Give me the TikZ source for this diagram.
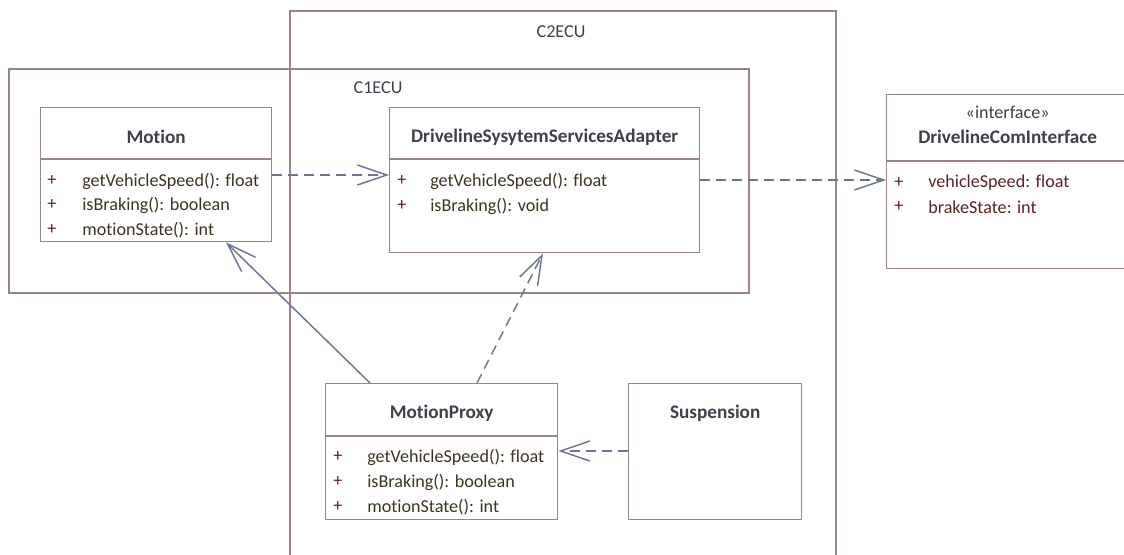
\documentclass[tikz,border=0pt]{standalone}
\usepackage{fontspec}
\setmainfont{Carlito}[Ligatures={NoCommon}]
\usetikzlibrary{arrows.meta}
\definecolor{boxline}{HTML}{9A8484}
\definecolor{conn}{HTML}{6E7590}
\definecolor{titletext}{HTML}{3F3F4A}
\definecolor{membertext}{HTML}{3D3420}
\definecolor{plustext}{HTML}{5A1E14}
\definecolor{ifacetext}{HTML}{5A2323}
\begin{document}
\begin{tikzpicture}[x=0.75pt, y=-0.75pt,
  every node/.style={font=\fontsize{13.6}{15}\selectfont},
  frame/.style={draw=boxline, line width=1pt},
  classbox/.style={draw=boxline, line width=1pt, anchor=north west, inner sep=0pt},
  title/.style={font=\fontsize{14.4}{16}\selectfont\bfseries, text=titletext},
  member/.style={anchor=west, text=membertext, inner sep=0pt},
  plus/.style={text=plustext, inner sep=0pt},
  dep/.style={draw=conn, line width=1.1pt, dash pattern=on 7.5pt off 4.5pt,
    -{Straight Barb[length=22pt, width=15pt]}},
  assoc/.style={draw=conn, line width=1.1pt,
    -{Straight Barb[length=22pt, width=15pt]}}]
  \clip (0,0) rectangle (1124,554);
  % ECU frames
  \draw[frame] (290,11) rectangle (836,560);
  \node[text=titletext] (c2label) at (561,32) {C2ECU};
  \draw[frame] (9,69) rectangle (749,293);
  \node[text=titletext] (c1label) at (378,88) {C1ECU};
  % Motion
  \node[classbox, minimum width=231*0.75pt, minimum height=134*0.75pt] (motion) at (40,107) {};
  \draw[frame] (motion.west |- 0,159) -- (motion.east |- 0,159);
  \node[title] (motiontitle) at (motion.north |- 0,137) {Motion};
  \foreach \i/\y/\t in {1/181/getVehicleSpeed(): float, 2/205/isBraking(): boolean, 3/230/motionState(): int} {
    \node[plus] (motionplus\i) at (52,\y) {+};
    \node[member] (motionop\i) at (82,\y) {\t};
  }
  % Adapter
  \node[classbox, minimum width=310*0.75pt, minimum height=145*0.75pt] (adapter) at (389,107) {};
  \draw[frame] (adapter.west |- 0,159) -- (adapter.east |- 0,159);
  \node[title] (adaptertitle) at (adapter.north |- 0,137) {DrivelineSysytemServicesAdapter};
  \foreach \i/\y/\t in {1/181/getVehicleSpeed(): float, 2/206/isBraking(): void} {
    \node[plus] (adapterplus\i) at (402,\y) {+};
    \node[member] (adapterop\i) at (430,\y) {\t};
  }
  % Interface
  \node[classbox, minimum width=242*0.75pt, minimum height=174*0.75pt] (iface) at (886,94) {};
  \draw[frame] (iface.west |- 0,161) -- (iface.east |- 0,161);
  \node[text=titletext] (ifacestereo) at (iface.north |- 0,112) {«interface»};
  \node[title] (ifacetitle) at (iface.north |- 0,137) {DrivelineComInterface};
  \foreach \i/\y/\t in {1/183/vehicleSpeed: float, 2/207/brakeState: int} {
    \node[plus] (ifaceplus\i) at (899,\y) {+};
    \node[member, text=ifacetext] (ifaceattr\i) at (928,\y) {\t};
  }
  % MotionProxy
  \node[classbox, minimum width=232*0.75pt, minimum height=136*0.75pt] (proxy) at (325,383) {};
  \draw[frame] (proxy.west |- 0,436) -- (proxy.east |- 0,436);
  \node[title] (proxytitle) at (proxy.north |- 0,413) {MotionProxy};
  \foreach \i/\y/\t in {1/457/getVehicleSpeed(): float, 2/482/isBraking(): boolean, 3/507/motionState(): int} {
    \node[plus] (proxyplus\i) at (338,\y) {+};
    \node[member] (proxyop\i) at (367,\y) {\t};
  }
  % Suspension
  \node[classbox, minimum width=173*0.75pt, minimum height=136*0.75pt] (susp) at (628,383) {};
  \node[title] (susptitle) at (susp.north |- 0,413) {Suspension};
  % Connectors
  \draw[dep] (motion.east |- 0,175) -- (adapter.west |- 0,175);
  \draw[dep] (adapter.east |- 0,180) -- (iface.west |- 0,180);
  \draw[assoc] (370,0 |- proxy.north) -- (226,0 |- motion.south);
  \draw[dep] (477,0 |- proxy.north) -- (543,0 |- adapter.south);
  \draw[dep] (susp.west |- 0,451) -- (proxy.east |- 0,451);
\end{tikzpicture}
\end{document}
